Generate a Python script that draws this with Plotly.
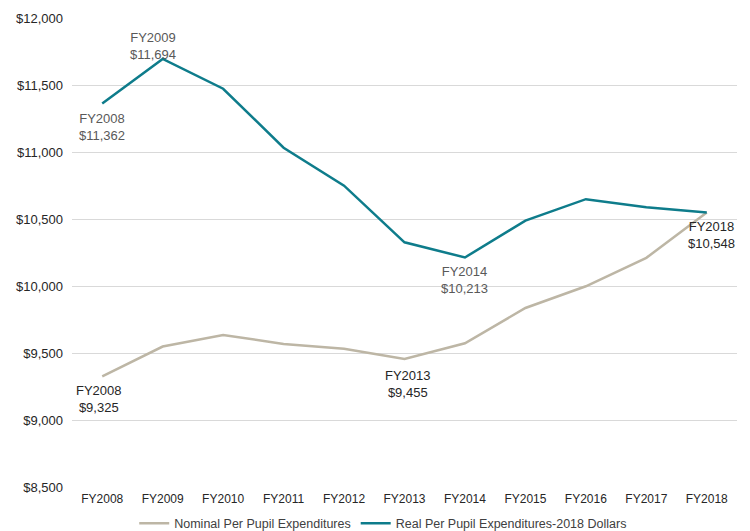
import plotly.graph_objects as go

years = ["FY2008", "FY2009", "FY2010", "FY2011", "FY2012", "FY2013",
         "FY2014", "FY2015", "FY2016", "FY2017", "FY2018"]
nominal = [9325, 9548, 9634, 9568, 9532, 9455, 9573, 9836, 9998, 10210, 10548]
real = [11362, 11694, 11472, 11032, 10749, 10326, 10213, 10488, 10648, 10588, 10548]

teal = "#0E7C8B"
tan = "#BDB6A5"

fig = go.Figure()
fig.add_trace(go.Scatter(x=years, y=nominal, mode="lines", name="Nominal Per Pupil Expenditures",
                         line=dict(color=tan, width=2.5)))
fig.add_trace(go.Scatter(x=years, y=real, mode="lines", name="Real Per Pupil Expenditures-2018 Dollars",
                         line=dict(color=teal, width=2.5)))

def fmt(v):
    return "$" + format(v, ",")

# (series, index, yshift, xshift, color)
labels = [
    (real, 0, -24, 0, "#595959"),
    (real, 1, 13, -10, "#595959"),
    (real, 6, -23, 0, "#595959"),
    (nominal, 0, -23, -3, "#262626"),
    (nominal, 5, -25, 3, "#262626"),
    (nominal, 10, -22, 5, "#262626"),
]
for series, i, ys, xs, col in labels:
    fig.add_annotation(x=years[i], y=series[i], text=years[i] + "<br>" + fmt(series[i]),
                       showarrow=False, yshift=ys, xshift=xs,
                       font=dict(size=13, color=col, family="Liberation Sans, Arial"))

# page has an 8px body margin, so the figure is sized/offset to compensate
fig.update_layout(
    width=742, height=523,
    margin=dict(l=64, r=13, t=10, b=44, autoexpand=False),
    paper_bgcolor="white", plot_bgcolor="white",
    font=dict(family="Liberation Sans, Arial", size=12, color="#262626"),
    showlegend=True,
    legend=dict(orientation="h", x=0.468, xanchor="center", y=-0.046, yanchor="top",
                font=dict(size=12.5, color="#404040"), itemwidth=30,
                tracegroupgap=0),
    xaxis=dict(range=[-0.5, 10.5], showgrid=False, zeroline=False, showline=False,
               ticks="", ticklabelstandoff=3, tickfont=dict(size=12, color="#262626")),
    yaxis=dict(range=[8500, 12000], dtick=500, tickformat="$,.0f", showgrid=True,
               gridcolor="#D9D9D9", gridwidth=1, zeroline=False, showline=False,
               ticks="", ticklabelstandoff=8, tickfont=dict(size=13, color="#262626")),
)

fig.write_html("out.html")
